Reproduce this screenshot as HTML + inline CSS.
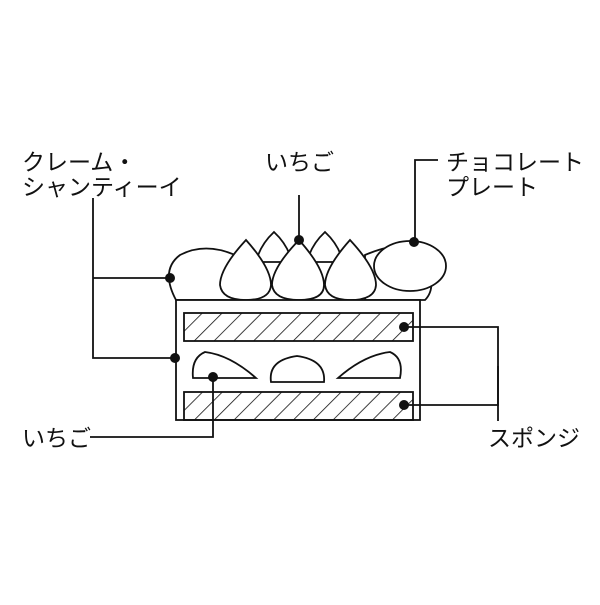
<!DOCTYPE html>
<html><head><meta charset="utf-8"><style>
body{margin:0;background:#fff}
text{font-family:"Liberation Sans","Noto Sans CJK JP",sans-serif;font-size:23px;fill:#111}
</style></head><body>
<svg width="600" height="600" viewBox="0 0 600 600" xmlns="http://www.w3.org/2000/svg">
<defs><pattern id="h" width="14" height="14" patternUnits="userSpaceOnUse" patternTransform="rotate(45)"><line x1="0" y1="0" x2="0" y2="14" stroke="#111" stroke-width="1.6"/></pattern></defs>
<g fill="#fff" stroke="#111" stroke-width="1.8">
<path d="M176 300 Q160 270 180 255 Q205 242 235 255 L240 300 Z"/>
<path d="M365 255 Q400 240 420 250 Q440 285 425 300 L365 300 Z"/>
<path d="M274 232 Q260 245 256 262 L292 262 Q288 245 274 232Z"/>
<path d="M325 232 Q311 245 307 262 L343 262 Q339 245 325 232Z"/>
<path d="M246 240 Q220 268 220 285 Q222 300 246 300 Q270 300 271 285 Q271 268 246 240Z"/>
<path d="M299 240 Q272 268 272 285 Q274 300 299 300 Q324 300 324 285 Q324 268 299 240Z"/>
<path d="M350 240 Q325 268 325 285 Q327 300 350 300 Q375 300 376 285 Q376 268 350 240Z"/>
<ellipse cx="410" cy="266" rx="36" ry="25"/>
<rect x="176" y="300" width="244" height="120"/>
<rect x="184" y="313" width="229" height="28" fill="url(#h)"/>
<rect x="184" y="392" width="229" height="28" fill="url(#h)"/>
<path d="M193 378 Q191 358 205 352 Q230 355 256 378 Z"/>
<path d="M271 382 Q268 360 297 356 Q326 360 324 382 Z"/>
<path d="M338 378 Q364 355 390 352 Q404 358 400 378 Z"/>
</g>
<g stroke="#111" stroke-width="1.8" fill="none">
<polyline points="170,278 93,278"/>
<polyline points="93,198 93,358 175,358"/>
<line x1="299" y1="195" x2="299" y2="240"/>
<polyline points="438,160 415,160 415,241"/>
<polyline points="404,327 498,327 498,405 404,405"/>
<line x1="498" y1="366" x2="498" y2="421"/>
<polyline points="90,437 213,437 213,377"/>
</g>
<g fill="#111">
<circle cx="170" cy="278" r="5"/><circle cx="175" cy="358" r="5"/>
<circle cx="299" cy="240" r="5"/><circle cx="414" cy="242" r="5"/>
<circle cx="404" cy="327" r="5"/><circle cx="404" cy="405" r="5"/>
<circle cx="213" cy="377" r="5"/>
</g>
<text x="22" y="170">クレーム・</text>
<text x="22" y="195">シャンティーイ</text>
<text x="265" y="170">いちご</text>
<text x="446" y="170">チョコレート</text>
<text x="446" y="195">プレート</text>
<text x="22" y="446">いちご</text>
<text x="488" y="446">スポンジ</text>
</svg>
</body></html>
